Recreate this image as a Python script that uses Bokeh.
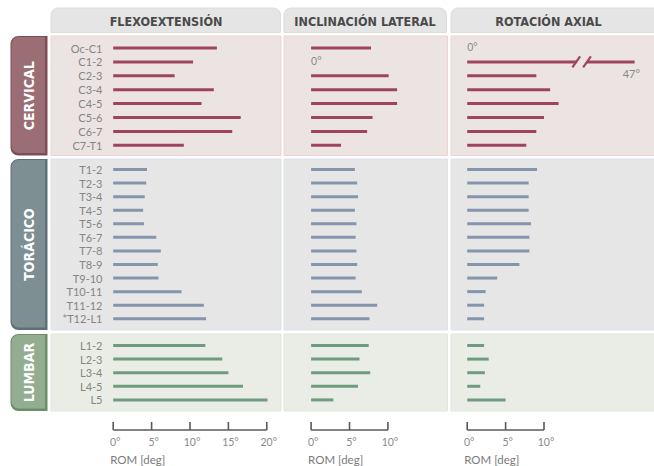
from bokeh.plotting import figure
from bokeh.models import Range1d, ColumnDataSource
from bokeh.embed import file_html
from bokeh.resources import INLINE
from bokeh.core.properties import value

# ---------------- data (ROM in degrees) ----------------
columns = ["FLEXOEXTENSIÓN", "INCLINACIÓN LATERAL", "ROTACIÓN AXIAL"]
regions = ["CERVICAL", "TORÁCICO", "LUMBAR"]

segments_cerv = ["Oc-C1", "C1-2", "C2-3", "C3-4", "C4-5", "C5-6", "C6-7", "C7-T1"]
flex_cerv = [13.5, 10.4, 8.0, 13.1, 11.5, 16.6, 15.5, 9.2]
incl_cerv = [7.8, 0, 10.1, 11.2, 11.2, 8.0, 7.3, 3.9]
rot_cerv = [0, 47, 9.0, 10.8, 11.9, 10.0, 9.0, 7.7]

segments_tor = ["T1-2", "T2-3", "T3-4", "T4-5", "T5-6", "T6-7", "T7-8", "T8-9",
                "T9-10", "T10-11", "T11-12", "*T12-L1"]
flex_tor = [4.4, 4.3, 4.1, 3.9, 4.0, 5.6, 6.2, 5.8, 5.9, 8.9, 11.8, 12.1]
incl_tor = [5.7, 6.0, 6.1, 5.7, 5.9, 5.8, 5.9, 6.0, 5.8, 6.6, 8.6, 7.6]
rot_tor = [9.1, 8.0, 8.0, 8.0, 8.3, 8.1, 8.1, 6.8, 3.9, 2.4, 2.2, 2.2]

segments_lum = ["L1-2", "L2-3", "L3-4", "L4-5", "L5"]
flex_lum = [12.0, 14.2, 15.0, 16.9, 20.1]
incl_lum = [7.5, 6.3, 7.7, 6.1, 2.9]
rot_lum = [2.2, 2.8, 2.3, 1.7, 5.0]

ticks_flex = [0, 5, 10, 15, 20]
ticks_incl = [0, 5, 10]
ticks_rot = [0, 5, 10]
axis_title = "ROM [deg]"

# ---------------- layout / style ----------------
W, H = 654, 466
PX_PER_DEG = 7.68
CAP_DISPLAY = 21.8        # where an off-scale bar ends (display units)
BREAK_L, BREAK_R = 14.2, 15.6

COND = value("'Liberation Sans Narrow', 'DejaVu Sans Condensed', 'Roboto Condensed', 'Open Sans', sans-serif")
LIGHT = value("Lato")

p = figure(width=W, height=H, x_range=Range1d(0, W), y_range=Range1d(H, 0),
           output_backend="svg", toolbar_location=None, min_border=0,
           x_axis_location=None, y_axis_location=None, outline_line_color=None)
p.grid.visible = False
p.background_fill_color = "white"
p.border_fill_color = "white"

# column geometry: (range name, pixel of 0°, panel left, panel right, header right, ticks, values)
col_geo = [
    ("flex", 112.7, 50.5, 280.5, 280.0, ticks_flex, [flex_cerv, flex_tor, flex_lum]),
    ("incl", 310.6, 283.5, 447.0, 446.0, ticks_incl, [incl_cerv, incl_tor, incl_lum]),
    ("rot", 466.7, 450.5, 660.0, 660.0, ticks_rot, [rot_cerv, rot_tor, rot_lum]),
]
for name, zero, *_ in col_geo:
    p.extra_x_ranges[name] = Range1d(start=-zero / PX_PER_DEG, end=(W - zero) / PX_PER_DEG)

# region geometry: (top, bottom, first row y, row step, panel bg, panel border, bar, tab, tab dark)
reg_geo = [
    (35.5, 155.0, 47.5, 13.9, "#ece4e3", "#efd3d4", "#9e4460", "#9b6d74", "#7c4d57"),
    (158.5, 329.5, 169.0, 13.57, "#e6e6e7", "#dde2e6", "#8495ad", "#7d8f93", "#5c7075"),
    (333.5, 410.5, 345.0, 13.6, "#e9ede5", "#dde7da", "#6f9c7e", "#93ad90", "#6c8c6a"),
]
seg_lists = [segments_cerv, segments_tor, segments_lum]

# headers
header_centers = [165.5, 364.5, 548.0]
for (name, zero, left, right, hright, ticks, _), label, cx in zip(col_geo, columns, header_centers):
    p.quad(left=left, right=hright, top=7.5, bottom=32.0, fill_color="#e5e5e5",
           line_color="#dcdcdc", line_width=1, border_radius=(7, 7, 0, 0))
    p.text(x=[cx], y=[20.5], text=[label], text_align="center", text_baseline="middle",
           text_font=COND, text_font_style="bold", text_font_size="12.5px", text_color="#4a4a4a")

# panel backgrounds first
for (top, bot, y0, step, bg, border, barc, tab, tabd) in reg_geo:
    for name, zero, left, right, hright, ticks, vals_all in col_geo:
        p.quad(left=left, right=right, top=top, bottom=bot, fill_color=bg,
               line_color=border, line_width=1)

# side tabs, labels, bars
for ri, (rname, (top, bot, y0, step, bg, border, barc, tab, tabd), segs) in enumerate(
        zip(regions, reg_geo, seg_lists)):
    p.quad(left=10, right=47, top=top, bottom=bot, fill_color=tabd, line_color=None,
           border_radius=(8, 0, 0, 8))
    p.quad(left=11, right=44.5, top=top + 1, bottom=bot - 2.5, fill_color=tab, line_color=None,
           border_radius=(7, 0, 0, 7))
    p.text(x=[28], y=[(top + bot) / 2], text=[rname], angle=1.5707963, text_align="center",
           text_baseline="middle", text_font=COND, text_font_style="bold",
           text_font_size="14px", text_color="white")

    ys = [y0 + i * step for i in range(len(segs))]
    p.text(x=[102] * len(segs), y=ys, text=segs, text_align="right", text_baseline="middle",
           text_font=LIGHT, text_font_size="11px", text_color="#858585")

    for name, zero, left, right, hright, ticks, vals_all in col_geo:
        vals = vals_all[ri]
        cap = ticks[-1] * 2
        norm = [(v, y) for v, y in zip(vals, ys) if 0 < v <= cap]
        src = ColumnDataSource(dict(x1=[v for v, _ in norm], y=[y for _, y in norm]))
        p.segment(x0=0, x1="x1", y0="y", y1="y", source=src, x_range_name=name,
                  line_width=3, line_color=barc, line_cap="butt")
        zeros = [y for v, y in zip(vals, ys) if v == 0]
        if zeros:
            p.text(x=[0] * len(zeros), y=[y - 1 for y in zeros], text=["0°"] * len(zeros),
                   x_range_name=name, text_align="left", text_baseline="middle",
                   text_font=LIGHT, text_font_size="10.5px", text_color="#8a8a8a")
        over = [(v, y) for v, y in zip(vals, ys) if v > cap]
        for v, y in over:
            p.segment(x0=[0, BREAK_R], x1=[BREAK_L, CAP_DISPLAY], y0=[y, y], y1=[y, y],
                      x_range_name=name, line_width=3, line_color=barc, line_cap="butt")
            p.segment(x0=[BREAK_L - 0.5, BREAK_R - 0.5], x1=[BREAK_L + 0.5, BREAK_R + 0.5],
                      y0=[y + 5.5, y + 5.5], y1=[y - 5.5, y - 5.5], x_range_name=name,
                      line_width=2.2, line_color=barc)
            p.text(x=[CAP_DISPLAY + 0.7], y=[y + 11.5], text=[f"{v:g}°"], x_range_name=name,
                   text_align="right", text_baseline="middle", text_font=LIGHT,
                   text_font_size="11px", text_color="#8a8a8a")

# bottom scale brackets
AX_Y, TICK_TOP = 429.5, 421.5
for name, zero, left, right, hright, ticks, _ in col_geo:
    p.segment(x0=[ticks[0]], x1=[ticks[-1]], y0=[AX_Y], y1=[AX_Y], x_range_name=name,
              line_width=1.6, line_color="#5a5a5a")
    p.segment(x0=ticks, x1=ticks, y0=[TICK_TOP] * len(ticks), y1=[AX_Y] * len(ticks),
              x_range_name=name, line_width=1.6, line_color="#5a5a5a")
    p.text(x=ticks, y=[441.5] * len(ticks), text=[f"{t}°" for t in ticks], x_range_name=name,
           text_align="center", text_baseline="middle", x_offset=2, text_font=LIGHT,
           text_font_size="10.5px", text_color="#8a8a8a")
    p.text(x=[0], y=[458.5], text=[axis_title], x_range_name=name, x_offset=-3,
           text_align="left", text_baseline="middle", text_font=LIGHT,
           text_font_size="11.5px", text_color="#7a7a7a")

open("out.html", "w").write(file_html(p, INLINE))
